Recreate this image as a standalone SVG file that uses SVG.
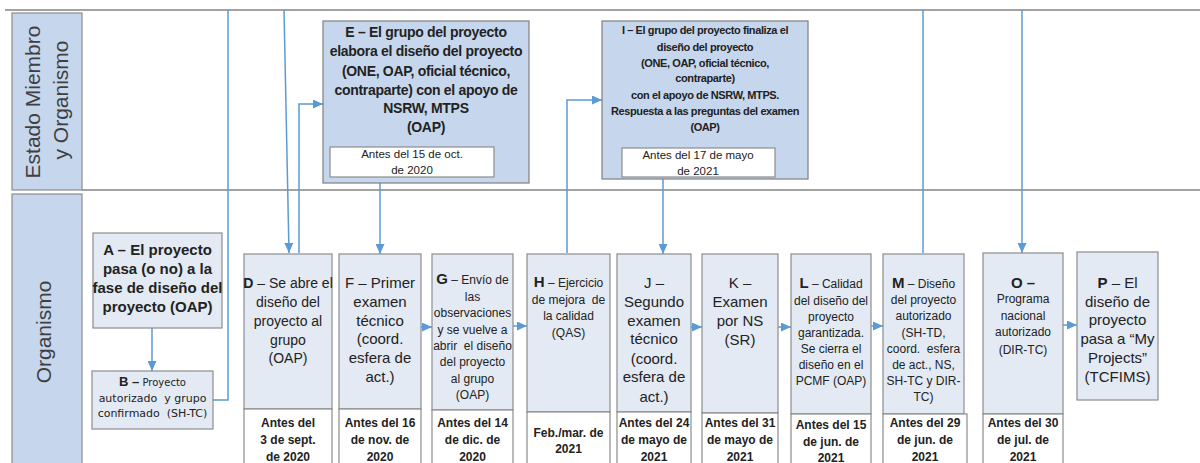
<svg xmlns="http://www.w3.org/2000/svg" width="1200" height="463" viewBox="0 0 1200 463">
<style>
text{font-family:"Liberation Sans",Arial,sans-serif;fill:#222;text-anchor:middle}
.lane{fill:#c6d6ec;stroke:#8c8c8c;stroke-width:1.2}
.lanetxt{font-size:21px;fill:#404040}
.sep{stroke:#a3a3a3;stroke-width:2;fill:none}
.top{fill:#c6d6ec;stroke:#7f7f7f;stroke-width:1.2}
.box{fill:#e3eaf4;stroke:#8c8c8c;stroke-width:1.2}
.date{fill:#fff;stroke:#8c8c8c;stroke-width:1.2}
.t15{font-size:15px}
.t14{font-size:14px}
.ts{font-size:12px}
.tb{font-size:14px;font-weight:bold;letter-spacing:-0.3px}
.ti{font-size:11px;font-weight:bold;letter-spacing:-0.4px}
.td{font-size:11.5px}
.d{font-size:12px;font-weight:bold}
.b{font-weight:bold}
.bs{font-size:11px;font-family:"DejaVu Sans",sans-serif}
.c{stroke:#5b9bd5;stroke-width:1.5;fill:none}
.ca{stroke:#5b9bd5;stroke-width:1.5;fill:none;marker-end:url(#ah)}
</style>
<defs>
<marker id="ah" markerUnits="userSpaceOnUse" markerWidth="10" markerHeight="9" refX="10" refY="4.5" orient="auto">
<path d="M0,0 L10,4.5 L0,9 z" fill="#5b9bd5"/>
</marker>
</defs>
<rect width="1200" height="463" fill="#fff"/>

<g id="lanes">
<line class="sep" x1="5" y1="10" x2="1200" y2="10"/>
<line class="sep" x1="82" y1="190" x2="1200" y2="190"/>
<rect class="lane" x="12" y="13" width="70" height="177"/>
<text class="lanetxt" transform="translate(40,102) rotate(-90)">Estado Miembro</text>
<text class="lanetxt" transform="translate(68,100) rotate(-90)">y Organismo</text>
<rect class="lane" x="12" y="194" width="70" height="280"/>
<text class="lanetxt" transform="translate(51,332) rotate(-90)">Organismo</text>
</g>

<g id="connectors">
<path class="ca" d="M152,328 V371"/>
<path class="c" d="M213,400 H228 V10"/>
<path class="ca" d="M284,10 L289,253"/>
<path class="ca" d="M299,253 V104 H323"/>
<path class="ca" d="M380,172 V254"/>
<path class="ca" d="M421,327 H432"/>
<path class="ca" d="M513,326 H527"/>
<path class="ca" d="M567,253 V100 H602"/>
<path class="ca" d="M663,172 V254"/>
<path class="ca" d="M691,327 H702"/>
<path class="ca" d="M778,327 H791"/>
<path class="ca" d="M871,326 H883"/>
<path class="c" d="M923,253 V10"/>
<path class="ca" d="M1022,10 V253"/>
<path class="ca" d="M1063,325 H1077"/>
</g>

<g id="nodeE">
<rect class="top" x="323" y="21" width="206" height="162"/>
<text class="tb" x="426" y="37">E – El grupo del proyecto</text>
<text class="tb" x="426" y="56">elabora el diseño del proyecto</text>
<text class="tb" x="426" y="76">(ONE, OAP, oficial técnico,</text>
<text class="tb" x="426" y="95">contraparte) con el apoyo de</text>
<text class="tb" x="426" y="113">NSRW, MTPS</text>
<text class="tb" x="426" y="132">(OAP)</text>
<rect class="date" x="330" y="147" width="164" height="30"/>
<text class="td" x="412" y="158">Antes del 15 de oct.</text>
<text class="td" x="412" y="174">de 2020</text>
</g>

<g id="nodeI">
<rect class="top" x="602" y="21" width="206" height="158"/>
<text class="ti" x="705" y="34">I – El grupo del proyecto finaliza el</text>
<text class="ti" x="705" y="51">diseño del proyecto</text>
<text class="ti" x="705" y="67">(ONE, OAP, oficial técnico,</text>
<text class="ti" x="705" y="82">contraparte)</text>
<text class="ti" x="705" y="99">con el apoyo de NSRW, MTPS.</text>
<text class="ti" x="705" y="115">Respuesta a las preguntas del examen</text>
<text class="ti" x="705" y="131">(OAP)</text>
<rect class="date" x="622" y="148" width="153" height="29"/>
<text class="td" x="698" y="159">Antes del 17 de mayo</text>
<text class="td" x="698" y="175">de 2021</text>
</g>

<g id="nodeA">
<rect class="box" x="93" y="233" width="129" height="95"/>
<text class="t15 b" x="157.5" y="255">A – El proyecto</text>
<text class="t15 b" x="157.5" y="274">pasa (o no) a la</text>
<text class="t15 b" x="157.5" y="293">fase de diseño del</text>
<text class="t15 b" x="157.5" y="312">proyecto (OAP)</text>
</g>

<g id="nodeB">
<rect class="box" x="92" y="371" width="121" height="58"/>
<text x="152.5" y="386" class="bs" style="font-size:10px"><tspan class="b" style="font-size:13px;font-family:'Liberation Sans',sans-serif">B –</tspan> Proyecto</text>
<text x="152.5" y="402" class="bs">autorizado&#160; y grupo</text>
<text x="152.5" y="417" class="bs">confirmado&#160; (SH-TC)</text>
</g>

<g id="nodeD">
<rect class="box" x="244" y="254" width="88" height="155"/>
<rect class="date" x="244" y="409" width="88" height="60"/>
<text class="t14" x="288" y="288"><tspan class="b">D</tspan> – Se abre el</text>
<text class="t14" x="288" y="307">diseño del</text>
<text class="t14" x="288" y="326">proyecto al</text>
<text class="t14" x="288" y="345">grupo</text>
<text class="t14" x="288" y="363">(OAP)</text>
<text class="d" x="288" y="427">Antes del</text>
<text class="d" x="288" y="444">3 de sept.</text>
<text class="d" x="288" y="461">de 2020</text>
</g>

<g id="nodeF">
<rect class="box" x="339" y="254" width="82" height="155"/>
<rect class="date" x="339" y="409" width="82" height="60"/>
<text class="t15" x="380" y="288">F – Primer</text>
<text class="t15" x="380" y="307">examen</text>
<text class="t15" x="380" y="326">técnico</text>
<text class="t15" x="380" y="344">(coord.</text>
<text class="t15" x="380" y="363">esfera de</text>
<text class="t15" x="380" y="382">act.)</text>
<text class="d" x="380" y="427">Antes del 16</text>
<text class="d" x="380" y="444">de nov. de</text>
<text class="d" x="380" y="461">2020</text>
</g>

<g id="nodeG">
<rect class="box" x="432" y="254" width="81" height="156"/>
<rect class="date" x="432" y="410" width="81" height="60"/>
<text class="ts" x="472.5" y="284"><tspan class="b" style="font-size:15px">G</tspan> – Envío de</text>
<text class="ts" x="472.5" y="301">las</text>
<text class="ts" x="472.5" y="317">observaciones</text>
<text class="ts" x="472.5" y="334">y se vuelve a</text>
<text class="ts" x="472.5" y="350">abrir&#160; el diseño</text>
<text class="ts" x="472.5" y="366">del proyecto</text>
<text class="ts" x="472.5" y="383">al grupo</text>
<text class="ts" x="472.5" y="399">(OAP)</text>
<text class="d" x="472.5" y="427">Antes del 14</text>
<text class="d" x="472.5" y="444">de dic. de</text>
<text class="d" x="472.5" y="461">2020</text>
</g>

<g id="nodeH">
<rect class="box" x="527" y="254" width="83" height="158"/>
<rect class="date" x="527" y="412" width="83" height="58"/>
<text class="ts" x="568.5" y="287"><tspan class="b" style="font-size:15px">H</tspan> – Ejercicio</text>
<text class="ts" x="568.5" y="304">de mejora&#160; de</text>
<text class="ts" x="568.5" y="320">la calidad</text>
<text class="ts" x="568.5" y="337">(QAS)</text>
<text class="d" x="568.5" y="437">Feb./mar. de</text>
<text class="d" x="568.5" y="453">2021</text>
</g>

<g id="nodeJ">
<rect class="box" x="617" y="254" width="74" height="158"/>
<rect class="date" x="617" y="412" width="74" height="58"/>
<text class="t15" x="654" y="288">J –</text>
<text class="t15" x="654" y="307">Segundo</text>
<text class="t15" x="654" y="326">examen</text>
<text class="t15" x="654" y="344">técnico</text>
<text class="t15" x="654" y="364">(coord.</text>
<text class="t15" x="654" y="382">esfera de</text>
<text class="t15" x="654" y="402">act.)</text>
<text class="d" x="654" y="427">Antes del 24</text>
<text class="d" x="654" y="444">de mayo de</text>
<text class="d" x="654" y="461">2021</text>
</g>

<g id="nodeK">
<rect class="box" x="702" y="254" width="76" height="159"/>
<rect class="date" x="702" y="413" width="76" height="57"/>
<text class="t15" x="740" y="288">K –</text>
<text class="t15" x="740" y="307">Examen</text>
<text class="t15" x="740" y="326">por NS</text>
<text class="t15" x="740" y="345">(SR)</text>
<text class="d" x="740" y="427">Antes del 31</text>
<text class="d" x="740" y="444">de mayo de</text>
<text class="d" x="740" y="461">2021</text>
</g>

<g id="nodeL">
<rect class="box" x="791" y="254" width="80" height="160"/>
<rect class="date" x="791" y="414" width="80" height="56"/>
<text class="ts" x="831" y="288"><tspan class="b" style="font-size:15px">L</tspan> – Calidad</text>
<text class="ts" x="831" y="305">del diseño del</text>
<text class="ts" x="831" y="321">proyecto</text>
<text class="ts" x="831" y="337">garantizada.</text>
<text class="ts" x="831" y="353">Se cierra el</text>
<text class="ts" x="831" y="369">diseño en el</text>
<text class="ts" x="831" y="385">PCMF (OAP)</text>
<text class="d" x="831" y="429">Antes del 15</text>
<text class="d" x="831" y="446">de jun. de</text>
<text class="d" x="831" y="462">2021</text>
</g>

<g id="nodeM">
<rect class="box" x="883" y="254" width="81" height="160"/>
<rect class="date" x="883" y="414" width="84" height="56"/>
<text class="ts" x="923.5" y="288"><tspan class="b" style="font-size:15px">M</tspan> – Diseño</text>
<text class="ts" x="923.5" y="304">del proyecto</text>
<text class="ts" x="923.5" y="320">autorizado</text>
<text class="ts" x="923.5" y="337">(SH-TD,</text>
<text class="ts" x="923.5" y="353">coord.&#160; esfera</text>
<text class="ts" x="923.5" y="369">de act., NS,</text>
<text class="ts" x="923.5" y="385">SH-TC y DIR-</text>
<text class="ts" x="923.5" y="401">TC)</text>
<text class="d" x="925" y="427">Antes del 29</text>
<text class="d" x="925" y="444">de jun. de</text>
<text class="d" x="925" y="461">2021</text>
</g>

<g id="nodeO">
<rect class="box" x="983" y="253" width="80" height="161"/>
<rect class="date" x="983" y="414" width="80" height="56"/>
<text class="t15 b" x="1023" y="288">O –</text>
<text class="ts" x="1023" y="303">Programa</text>
<text class="ts" x="1023" y="320">nacional</text>
<text class="ts" x="1023" y="336">autorizado</text>
<text class="ts" x="1023" y="354">(DIR-TC)</text>
<text class="d" x="1023" y="427">Antes del 30</text>
<text class="d" x="1023" y="444">de jul. de</text>
<text class="d" x="1023" y="461">2021</text>
</g>

<g id="nodeP">
<rect class="box" x="1077" y="252" width="81" height="148"/>
<text class="t15" x="1117.5" y="288"><tspan class="b">P</tspan> – El</text>
<text class="t15" x="1117.5" y="307">diseño de</text>
<text class="t15" x="1117.5" y="325">proyecto</text>
<text class="t15" x="1117.5" y="344">pasa a “My</text>
<text class="t15" x="1117.5" y="363">Projects”</text>
<text class="t15" x="1117.5" y="382">(TCFIMS)</text>
</g>
</svg>
